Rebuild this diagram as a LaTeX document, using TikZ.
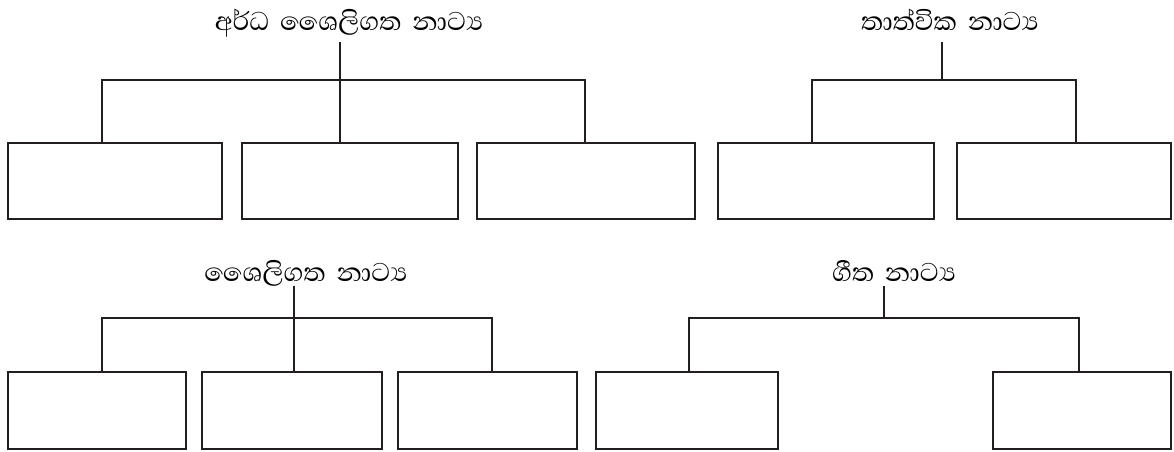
\documentclass[tikz,border=0pt]{standalone}
\usepackage{fontspec}
\newfontfamily\sinhala[Script=Sinhala,WordSpace=1.7]{Abhaya Libre}
\usetikzlibrary{positioning,calc}
\definecolor{inkgray}{RGB}{35,31,32}

\begin{document}
\begin{tikzpicture}[x=0.025cm,y=-0.025cm,
  slot/.style={draw=inkgray,line width=2.1pt,inner sep=0pt,fill=white},
  link/.style={draw=inkgray,line width=1.8pt},
  title/.style={font=\sinhala\fontsize{23.5}{28}\selectfont,inner sep=0pt,anchor=base}]
  \useasboundingbox (0,0) rectangle (1174,452);
  % headings
  \node[title] (tA) at (349,31) {අර්ධ ශෛලිගත නාට්‍ය};
  \node[title] (tB) at (950,31) {තාත්වික නාට්‍ය};
  \node[title] (tC) at (306,281) {ශෛලිගත නාට්‍ය};
  \node[title] (tD) at (894,281) {ගීත නාට්‍ය};
  % empty boxes: name/left/right/top/bottom
  \foreach \n/\l/\r/\t/\b in {a1/8/222/143/219, a2/242/458/143/219,
      a3/477/695/143/219, b1/718/934/143/219, b2/957/1171/143/219,
      c1/8/186/372/449, c2/202/382/372/449, c3/398/577/372/449,
      d1/596/778/372/449, d2/993/1171/372/449}{
    \node[slot,minimum width={(\r-\l)*0.025cm},minimum height={(\b-\t)*0.025cm}]
      (\n) at ({(\l+\r)/2},{(\t+\b)/2}) {};
  }
  % stems and bars
  \coordinate (sA) at (340,42);  \coordinate (jA) at (340,80);
  \coordinate (sB) at (942,42);  \coordinate (jB) at (942,80);
  \coordinate (sC) at (294,286); \coordinate (jC) at (294,318);
  \coordinate (sD) at (884,286); \coordinate (jD) at (884,318);
  \draw[link] (sA) -- (jA) -- (a2.north -| jA);
  \draw[link] (a1.north -| 102,0) |- (jA) -| (a3.north -| 585,0);
  \draw[link] (sB) -- (jB);
  \draw[link] (b1.north -| 812,0) |- (jB) -| (b2.north -| 1076,0);
  \draw[link] (sC) -- (jC) -- (c2.north -| jC);
  \draw[link] (c1.north -| 102,0) |- (jC) -| (c3.north -| 492,0);
  \draw[link] (sD) -- (jD);
  \draw[link] (d1.north -| 689,0) |- (jD) -| (d2.north -| 1079,0);
\end{tikzpicture}
\end{document}
